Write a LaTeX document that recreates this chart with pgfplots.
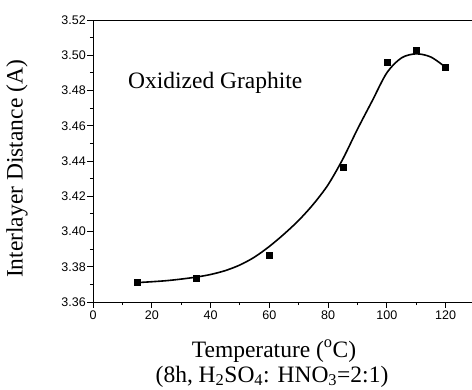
\documentclass[border=0pt]{standalone}
\usepackage{fontspec}
\setmainfont{Liberation Serif}
\newfontfamily\arial{Liberation Sans}
\usepackage{pgfplots}
\pgfplotsset{compat=1.18}
\newcommand{\tickfont}{\arial\fontsize{12.5}{14}\selectfont}
\begin{document}
\begin{tikzpicture}
\begin{axis}[
  scale only axis,
  width=379pt, height=282pt,
  xmin=0, xmax=129, ymin=3.36, ymax=3.52,
  axis y line*=left,
  axis x line*=box,
  xtick pos=bottom,
  xtick={0,20,40,60,80,100,120},
  ytick={3.36,3.38,3.40,3.42,3.44,3.46,3.48,3.50,3.52},
  minor x tick num=1,
  minor y tick num=1,
  tick align=outside,
  major tick length=5.5pt,
  minor tick length=3pt,
  every tick/.style={black, line width=0.9pt},
  axis line style={line width=0.9pt},
  /pgf/number format/assume math mode=true,
  yticklabel={\tickfont\pgfmathprintnumber[fixed,fixed zerofill,precision=2,assume math mode=true]{\tick}},
  xticklabel={\tickfont\pgfmathprintnumber[fixed,precision=0,assume math mode=true]{\tick}},
  yticklabel style={inner sep=1.5pt},
  clip=false,
]
\addplot[only marks, mark=square*, mark size=3pt, black] coordinates {
  (15,3.3710) (35,3.3735) (60,3.3864) (85,3.4365) (100,3.4963) (110,3.5030) (120,3.4934)
};
\addplot[black, line width=1.6pt, smooth] coordinates {
  (15,3.3710) (20,3.3715) (25,3.3721) (30,3.3730) (35,3.3741) (40,3.3756)
  (45,3.3778) (50,3.3810) (55,3.3855) (60,3.3915) (65,3.3985) (70,3.4063)
  (75,3.4155) (80,3.4265) (85,3.4410) (90,3.4580) (95,3.4740) (100,3.4900)
  (105,3.4985) (110,3.5008) (115,3.4990) (120,3.4932)
};
\coordinate (O) at (rel axis cs:0,0);
\end{axis}
\node[anchor=base west, font=\fontsize{23.5}{26}\selectfont, inner sep=0pt] at ([shift={(35pt,213pt)}]O) {Oxidized Graphite};
\node[rotate=90, font=\fontsize{23.5}{26}\selectfont, inner sep=0pt] at ([shift={(-76pt,133pt)}]O) {Interlayer Distance (A)};
\node[anchor=base, font=\fontsize{23.5}{26}\selectfont, inner sep=0pt] at ([shift={(181pt,-55pt)}]O) {Temperature ($^{\mathrm{o}}$C)};
\node[anchor=base, font=\fontsize{23.5}{26}\selectfont, inner sep=0pt] at ([shift={(179pt,-80pt)}]O) {(8h, H\textsubscript{2}SO\textsubscript{4}: HNO\textsubscript{3}=2:1)};
\pgfresetboundingbox
\path ([shift={(-93pt,-87pt)}]O) rectangle ++(472pt,389pt);
\end{tikzpicture}
\end{document}
